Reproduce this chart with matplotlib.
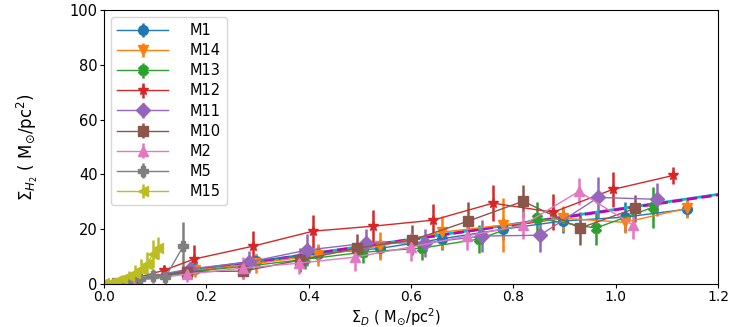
import matplotlib
matplotlib.use("Agg")
import matplotlib.pyplot as plt

names = ["M1", "M14", "M13", "M12", "M11", "M10", "M2", "M5", "M15"]
colors = ["#1f77b4", "#ff7f0e", "#2ca02c", "#d62728", "#9467bd",
          "#8c564b", "#e377c2", "#7f7f7f", "#bcbd22"]
markers = ["o", "v", "X", "*", "D", "s", "^", "P", "<"]

m1_x = [0.058, 0.178, 0.298, 0.418, 0.539, 0.66, 0.78, 0.897, 1.018, 1.139]
m1_y = [1.5, 5.5, 8.5, 11.0, 13.0, 16.5, 20.0, 23.0, 24.4, 27.3]
m1_e = [1.0, 2.0, 2.5, 3.0, 3.5, 4.0, 4.0, 4.5, 5.5, 3.0]

m14_x = [0.058, 0.178, 0.298, 0.418, 0.539, 0.66, 0.78, 0.897, 1.018, 1.139]
m14_y = [1.2, 5.0, 7.5, 10.5, 13.8, 18.9, 21.5, 24.0, 22.5, 27.6]
m14_e = [1.0, 2.5, 3.5, 4.0, 5.0, 6.0, 10.0, 4.5, 4.0, 3.5]

m13_x = [0.051, 0.165, 0.279, 0.393, 0.506, 0.621, 0.733, 0.846, 0.961, 1.073]
m13_y = [1.0, 4.5, 6.5, 9.0, 11.6, 13.1, 16.4, 24.0, 20.4, 28.0]
m13_e = [1.0, 2.5, 3.0, 3.5, 4.0, 4.5, 5.0, 6.0, 6.0, 7.5]

m12_x = [0.059, 0.117, 0.176, 0.291, 0.409, 0.526, 0.643, 0.76, 0.878, 0.994, 1.112]
m12_y = [2.0, 5.0, 9.1, 13.8, 19.3, 21.1, 23.3, 29.5, 26.2, 34.5, 39.6]
m12_e = [1.0, 2.0, 5.0, 5.5, 6.0, 6.0, 6.0, 6.5, 6.5, 6.5, 3.0]

m11_x = [0.054, 0.168, 0.283, 0.397, 0.513, 0.627, 0.739, 0.852, 0.966, 1.081]
m11_y = [1.5, 5.5, 8.0, 12.4, 14.9, 15.0, 17.5, 17.8, 31.6, 30.9]
m11_e = [1.0, 2.5, 4.0, 6.0, 5.0, 5.0, 6.0, 6.0, 7.5, 6.0]

m10_x = [0.054, 0.163, 0.272, 0.383, 0.494, 0.602, 0.711, 0.819, 0.930, 1.038]
m10_y = [1.5, 4.5, 4.7, 8.7, 13.1, 16.0, 22.9, 30.2, 20.4, 27.6]
m10_e = [1.0, 2.0, 3.0, 4.5, 5.0, 5.5, 7.0, 6.0, 6.0, 5.0]

m2_x = [0.054, 0.163, 0.272, 0.381, 0.49, 0.60, 0.709, 0.819, 0.928, 1.034]
m2_y = [1.0, 3.6, 5.8, 7.6, 9.8, 13.5, 17.5, 21.5, 33.8, 21.5]
m2_e = [1.0, 3.0, 4.0, 4.0, 5.0, 5.0, 5.0, 5.0, 5.0, 5.0]

m5_x = [0.02, 0.045, 0.07, 0.095, 0.12, 0.155]
m5_y = [0.5, 1.0, 1.8, 3.0, 2.5, 13.8]
m5_e = [0.5, 1.0, 1.5, 2.5, 2.5, 9.0]

m15_x = [0.0, 0.012, 0.024, 0.036, 0.048, 0.06, 0.072, 0.084, 0.096, 0.106]
m15_y = [0.2, 0.5, 1.0, 1.8, 2.8, 4.0, 5.5, 7.3, 11.0, 13.0]
m15_e = [0.3, 0.5, 1.0, 1.5, 2.0, 3.0, 3.5, 4.5, 5.0, 4.0]

series_x = [m1_x, m14_x, m13_x, m12_x, m11_x, m10_x, m2_x, m5_x, m15_x]
series_y = [m1_y, m14_y, m13_y, m12_y, m11_y, m10_y, m2_y, m5_y, m15_y]
series_e = [m1_e, m14_e, m13_e, m12_e, m11_e, m10_e, m2_e, m5_e, m15_e]

fit_x = [0.0, 1.2]
fit1_y = [0.0, 32.7]
fit2_y = [0.0, 32.5]

x_ticks = [0.0, 0.2, 0.4, 0.6, 0.8, 1.0, 1.2]
y_ticks = [0, 20, 40, 60, 80, 100]

W, H = 747, 327
fig = plt.figure(figsize=(W / 100, H / 100), dpi=100)
ax = fig.add_axes([104/W, 1-284/H, (718-104)/W, (284-10)/H])

for nm, c, mk, xs, ys, es in zip(names, colors, markers, series_x, series_y, series_e):
    ax.errorbar(xs, ys, yerr=es, color=c, marker=mk, markersize=7,
                linewidth=1.0, elinewidth=1.8, capsize=0, label=nm)

ax.plot(fit_x, fit1_y, color="c", linewidth=2.0, linestyle="-")
ax.plot(fit_x, fit2_y, color="m", linewidth=2.0, linestyle="--")

ax.set_xlim(0, 1.2)
ax.set_ylim(0, 100)
ax.set_xticks(x_ticks)
ax.set_yticks(y_ticks)
ax.tick_params(labelsize=10.5, length=3, pad=1.5)
ax.tick_params(axis="x", labelsize=10)
ax.set_ylabel(r"$\Sigma_{H_2}$ ( M$_{\odot}$/pc$^2$)", fontsize=12)
ax.yaxis.set_label_coords(-0.105, 0.5)

ax.legend(loc="upper left", fontsize=10.5, handlelength=3.5,
          borderaxespad=0.5, labelspacing=0.35, handletextpad=1.5)

# place x label as plain figure text just below the tick labels
fig.canvas.draw()
r = fig.canvas.get_renderer()
tick_bottom = min(t.get_window_extent(r).y0 for t in ax.get_xticklabels())
fig.text(0.5 * (104 + 718) / W - 0.02, (tick_bottom - 2) / H,
         r"$\Sigma_D$ ( M$_{\odot}$/pc$^2$)", fontsize=10.5,
         ha="center", va="top")

fig.savefig("out.png", dpi=100)
